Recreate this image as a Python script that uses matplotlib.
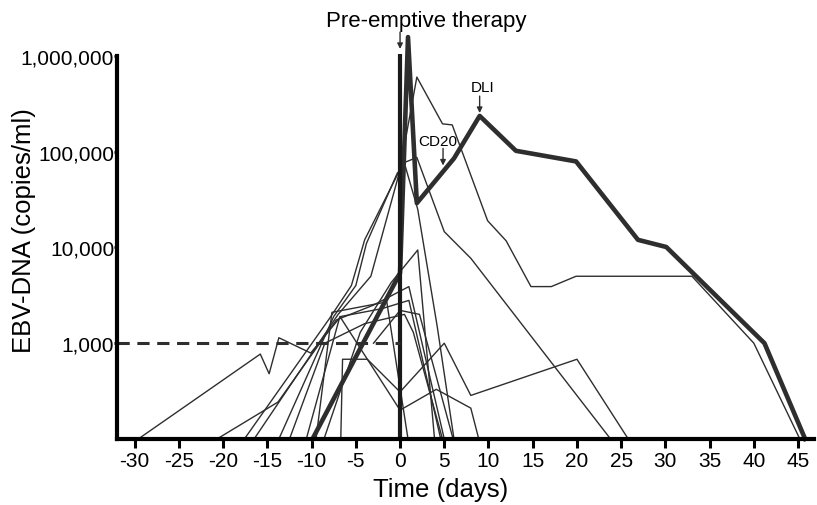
import matplotlib
matplotlib.use("Agg")
import matplotlib.pyplot as plt
from matplotlib.ticker import FixedLocator, FuncFormatter

plt.rcParams['font.family'] = ['Liberation Sans', 'DejaVu Sans']
plt.rcParams['axes.unicode_minus'] = False

# EBV-DNA load per patient, days relative to pre-emptive therapy (100 = undetectable)
p01_days = [-29.6, -15.8, -14.8, -13.7, -10.1, -6.7, -2.0, 1.0, 4.6]
p01_load = [100, 770, 480, 1140, 790, 1900, 2300, 2800, 100]
p02_days = [-20.7, -13.8, -7.2, -3.0, 1.0, 5.0]
p02_load = [100, 243, 1750, 2500, 3900, 100]
p03_days = [-17.6, -8.0, -5.5, -4.0, 0.0, 1.9, 4.8, 5.9, 9.9, 12.0, 14.8, 17.1, 19.9, 33.0, 40.0, 45.2]
p03_load = [100, 1800, 4000, 12000, 65000, 600000, 195000, 190000, 19000, 11700, 3900, 3900, 5000, 5000, 1000, 100]
p04_days = [-16.5, -7.0, -3.3, 0.2, 1.9, 5.0, 8.0, 23.8]
p04_load = [100, 2000, 5000, 75000, 87000, 14600, 7700, 100]
p05_days = [-13.7, -7.5, -5.0, -3.8, -0.3, 0.6, 2.0, 4.2, 6.1]
p05_load = [100, 1900, 4000, 11000, 60000, 70000, 25000, 1500, 100]
p06_days = [-6.7, -6.5, -3.7, 0.0, 5.0, 8.0, 20.0, 25.8]
p06_load = [100, 680, 680, 310, 1000, 285, 680, 100]
p07_days = [-10.6, -6.8, 0.0, 4.1, 8.0, 8.9]
p07_load = [100, 1900, 200, 330, 210, 100]
p08_days = [-8.6, -4.5, -1.0, 2.0, 3.9]
p08_load = [100, 1300, 4300, 9400, 100]
p09_days = [-9.5, -7.7, -1.5, 0.9]
p09_load = [100, 2100, 2700, 100]
p10_days = [-12.5, -8.5, -4.0, 0.5, 1.5, 4.8]
p10_load = [100, 1000, 1600, 2000, 1300, 100]
p11_days = [-3.0, 0.0, 2.2, 6.0]
p11_load = [1000, 2200, 2000, 100]

# highlighted patient (CD20 + DLI)
main_days = [-9.9, 0.0, 0.9, 1.9, 6.1, 9.0, 13.1, 19.9, 26.9, 30.1, 41.2, 45.8]
main_load = [100, 5400, 1570000, 29000, 85000, 236000, 102000, 79000, 12000, 10100, 1000, 100]

therapy_day = 0
therapy_top = 1050000
threshold = 1000
y_ticks = [1000, 10000, 100000, 1000000]
x_ticks = list(range(-30, 50, 5))

thin = [(p01_days, p01_load), (p02_days, p02_load), (p03_days, p03_load),
        (p04_days, p04_load), (p05_days, p05_load), (p06_days, p06_load),
        (p07_days, p07_load), (p08_days, p08_load), (p09_days, p09_load),
        (p10_days, p10_load), (p11_days, p11_load)]

col = '#2e2e2e'
fig = plt.figure(figsize=(8.17, 5.06), dpi=100)
ax = fig.add_axes([117 / 817, 66 / 506, 697 / 817, 412 / 506])

for d, v in thin:
    ax.plot(d, v, color=col, lw=1.0, clip_on=False)
ax.plot(main_days, main_load, color=col, lw=3.3, clip_on=False)

ax.vlines(therapy_day, 100, therapy_top, color='#1a1a1a', lw=3.0)
ax.hlines(threshold, -32, therapy_day, color=col, lw=2.2, linestyles=(0, (4, 2.5)))

ax.set_yscale('log')
ax.set_ylim(100, 2e6)
ax.set_xlim(-32, 46.8)

ax.spines['top'].set_visible(False)
ax.spines['right'].set_visible(False)
for s in ['left', 'bottom']:
    ax.spines[s].set_linewidth(3)
    ax.spines[s].set_color('black')
ax.spines['left'].set_bounds(100, 1e6)

ax.yaxis.set_major_locator(FixedLocator(y_ticks))
ax.yaxis.set_minor_locator(FixedLocator([]))
ax.yaxis.set_major_formatter(FuncFormatter(lambda v, p: f'{v:,.0f}'))
ax.set_xticks(x_ticks)
ax.tick_params(axis='x', length=6.5, width=2.2, pad=2, labelsize=15)
ax.tick_params(axis='y', length=2, width=2, pad=0, labelsize=15)

arrow = dict(arrowstyle='-|>', color=col, lw=1.0, mutation_scale=8, shrinkA=0, shrinkB=0)
ax.annotate('', xy=(therapy_day, 1.18e6), xytext=(therapy_day, 1.77e6), arrowprops=arrow, annotation_clip=False)
ax.text(2.94, 2.04e6, 'Pre-emptive therapy', ha='center', va='baseline', fontsize=16)
ax.annotate('', xy=(4.86, 71600), xytext=(4.86, 108000), arrowprops=arrow)
ax.text(4.3, 118000, 'CD20', ha='center', va='baseline', fontsize=11)
ax.annotate('', xy=(9.0, 253000), xytext=(9.0, 380000), arrowprops=arrow)
ax.text(9.3, 428000, 'DLI', ha='center', va='baseline', fontsize=11)

fig.text(441 / 817, 1 - 497 / 506, 'Time (days)', ha='center', va='baseline', fontsize=18.5)
fig.text(24 / 817, 1 - 231 / 506, 'EBV-DNA (copies/ml)', ha='center', va='center',
         rotation=90, fontsize=18.5)

fig.savefig('out.png', dpi=100)
